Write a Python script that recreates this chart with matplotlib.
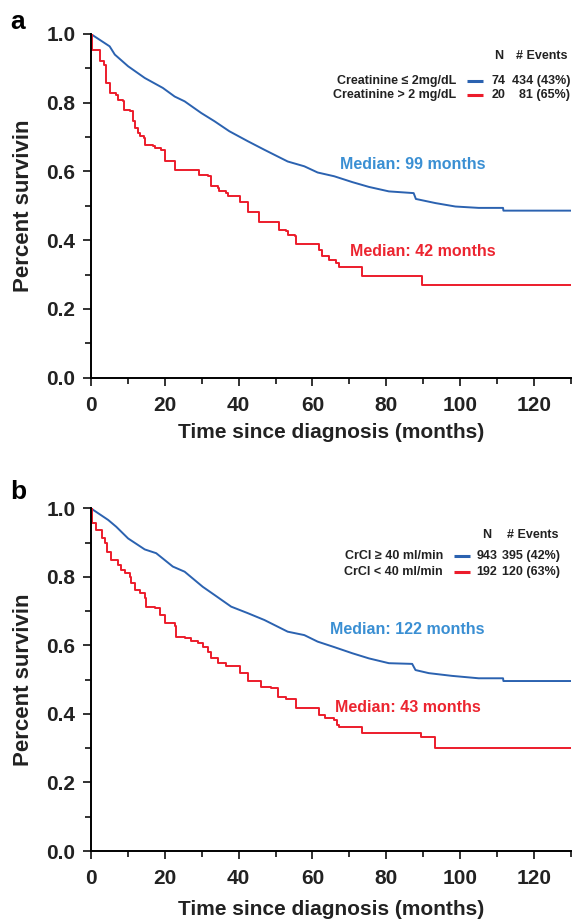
import numpy as np
import matplotlib
matplotlib.use('Agg')
import matplotlib.pyplot as plt

plt.rcParams['font.family'] = ['Liberation Sans', 'DejaVu Sans']
plt.rcParams['font.weight'] = 'bold'

# panel a - creatinine groups
a_blue_t = [0, 5.1, 6.5, 10.1, 14.6, 19.5, 22.7, 25.4, 29.9, 33.5, 37.5, 42.5, 47, 53.3,
            57.8, 61.4, 65.9, 70.8, 75.3, 80.7, 87.4, 88.0, 93.3, 98.7, 105, 111.6, 111.7, 130]
a_blue_s = [1.0, 0.964, 0.94, 0.906, 0.872, 0.843, 0.818, 0.804, 0.770, 0.746, 0.717, 0.688, 0.663, 0.629,
            0.615, 0.597, 0.586, 0.569, 0.555, 0.542, 0.537, 0.520, 0.508, 0.498, 0.494, 0.494, 0.486, 0.486]
a_red_t = [0, 0.4, 2.4, 3.6, 4.2, 5.1, 6.9, 7.4, 8.7, 9.0, 10.5, 11.4, 11.9, 12.8, 13.2, 14.4, 14.8,
           16.8, 17.3, 19.1, 20.0, 22.9, 29.4, 31.7, 32.6, 34.4, 34.8, 36.6, 37.1, 40.5, 42.6, 45.6,
           51.0, 52.8, 53.3, 55.2, 55.5, 61.8, 62.7, 64.5, 66.3, 67.2, 73.5, 89.7, 130]
a_red_s = [1.0, 0.953, 0.92, 0.911, 0.857, 0.828, 0.823, 0.809, 0.804, 0.780, 0.775, 0.746, 0.726, 0.712,
           0.702, 0.697, 0.678, 0.673, 0.668, 0.663, 0.629, 0.605, 0.591, 0.586, 0.557, 0.552, 0.542,
           0.537, 0.530, 0.510, 0.481, 0.452, 0.431, 0.426, 0.416, 0.411, 0.389, 0.372, 0.353, 0.343,
           0.334, 0.322, 0.295, 0.271, 0.271]

# panel b - CrCl groups
b_blue_t = [0, 4.7, 6.9, 10.1, 14.6, 17.7, 22.2, 25.4, 30.3, 33.5, 38, 42.5, 47, 53.3, 57.8,
            61.4, 65.9, 70.8, 75.3, 80.7, 87, 87.9, 91.5, 97.8, 105, 111.6, 111.7, 130]
b_blue_s = [1.0, 0.966, 0.946, 0.912, 0.880, 0.869, 0.830, 0.815, 0.771, 0.747, 0.713, 0.694, 0.674, 0.640,
            0.630, 0.611, 0.595, 0.577, 0.562, 0.548, 0.546, 0.528, 0.519, 0.511, 0.504, 0.504, 0.496, 0.496]
b_red_t = [0, 0.4, 1.5, 2.9, 3.8, 4.5, 5.6, 7.4, 8.3, 9.2, 10.5, 11.0, 11.9, 13.2, 14.6, 15.0, 17.3,
           18.6, 20.0, 22.7, 23.1, 25.4, 27.2, 29.0, 30.3, 31.7, 32.6, 34.4, 36.6, 40.5, 42.5, 46.1,
           48.8, 50.6, 52.8, 55.5, 61.8, 63.4, 65.9, 66.7, 67.2, 73.5, 89.5, 93.1, 130]
b_red_s = [1.0, 0.956, 0.937, 0.912, 0.898, 0.873, 0.849, 0.835, 0.820, 0.810, 0.800, 0.781, 0.762,
           0.752, 0.737, 0.713, 0.708, 0.689, 0.664, 0.657, 0.625, 0.621, 0.613, 0.606, 0.596, 0.582,
           0.562, 0.548, 0.540, 0.519, 0.497, 0.479, 0.475, 0.450, 0.443, 0.416, 0.397, 0.387, 0.382,
           0.368, 0.361, 0.345, 0.332, 0.300, 0.300]

a_groups = ['Creatinine \u2264 2mg/dL', 'Creatinine > 2 mg/dL']
a_n = ['74', '20']
a_events = ['434 (43%)', '81 (65%)']
a_medians = ['Median: 99 months', 'Median: 42 months']

b_groups = ['CrCl \u2265 40 ml/min', 'CrCl < 40 ml/min']
b_n = ['943', '192']
b_events = ['395 (42%)', '120 (63%)']
b_medians = ['Median: 122 months', 'Median: 43 months']

blue_line = '#2b62b0'
red_line = '#ec1c2b'
blue_text = '#3a8fd3'
red_text = '#ec2530'

fig = plt.figure(figsize=(5.74, 9.23), dpi=100)
ax_a = fig.add_axes([0.1582, 0.5908, 0.8366, 0.3724])
ax_b = fig.add_axes([0.1582, 0.0780, 0.8366, 0.3713])


def style_axis(ax, xpad):
    ax.set_xlim(0, 130)
    ax.set_ylim(0, 1.0)
    ax.spines['top'].set_visible(False)
    ax.spines['right'].set_visible(False)
    ax.spines['left'].set_linewidth(1.4)
    ax.spines['bottom'].set_linewidth(1.4)
    ax.set_xticks(np.arange(0, 121, 20))
    ax.set_xticks(np.arange(10, 131, 20), minor=True)
    ax.set_yticks(np.arange(0, 1.01, 0.2))
    ax.set_yticks(np.arange(0.1, 1.0, 0.2), minor=True)
    ax.yaxis.set_major_formatter(plt.FormatStrFormatter('%.1f'))
    ax.tick_params(which='major', length=6, width=1.3, labelsize=15, pad=5, color='#222222')
    ax.tick_params(which='minor', length=4, width=1.3, color='#222222')
    ax.tick_params(axis='x', pad=7)
    ax.set_xlabel('Time since diagnosis (months)', fontsize=15, fontweight='bold', labelpad=xpad,
                  color='#222222')
    ax.set_ylabel('Percent survivin', fontsize=16, fontweight='bold', labelpad=9, color='#222222')
    for lab in ax.get_xticklabels() + ax.get_yticklabels():
        lab.set_fontweight('bold')
        lab.set_color('#222222')


def legend_block(ax, groups, ns, events, n_x, ev_x, ev_right, lab_right, line_x, y_head, y_rows):
    ax.text(n_x, y_head, 'N', ha='center', va='center', fontsize=9, fontweight='bold', color='#222222')
    ax.text(ev_x, y_head, '# Events', ha='center', va='center', fontsize=9, fontweight='bold',
            color='#222222')
    for grp, n, ev, y, c in zip(groups, ns, events, y_rows, [blue_line, red_line]):
        ax.text(lab_right, y, grp, ha='right', va='center', fontsize=9, fontweight='bold', color='#222222')
        ax.plot(line_x, [y, y], color=c, lw=2.2, solid_capstyle='butt')
        ax.text(n_x, y, n, ha='center', va='center', fontsize=9, fontweight='bold', color='#222222')
        ax.text(ev_right, y, ev, ha='right', va='center', fontsize=9, fontweight='bold', color='#222222')


# panel a
ax_a.plot(a_blue_t, a_blue_s, color=blue_line, lw=1.4)
ax_a.plot(a_red_t, a_red_s, color=red_line, lw=1.4, drawstyle='steps-post')
style_axis(ax_a, 6)
ax_a.text(87.2, 0.620, a_medians[0], ha='center', va='center', fontsize=11.5, fontweight='bold', color=blue_text)
ax_a.text(89.9, 0.367, a_medians[1], ha='center', va='center', fontsize=11.5, fontweight='bold', color=red_text)
legend_block(ax_a, a_groups, a_n, a_events, 110.4, 122.0, 129.8, 98.8, [101.8, 106.1],
             0.937, [0.862, 0.821])
fig.text(18 / 574, 1 - 22 / 923, 'a', ha='center', va='center', fontsize=19, fontweight='bold')

# panel b
ax_b.plot(b_blue_t, b_blue_s, color=blue_line, lw=1.4)
ax_b.plot(b_red_t, b_red_s, color=red_line, lw=1.4, drawstyle='steps-post')
style_axis(ax_b, 8.5)
ax_b.text(85.8, 0.645, b_medians[0], ha='center', va='center', fontsize=11.5, fontweight='bold', color=blue_text)
ax_b.text(85.8, 0.420, b_medians[1], ha='center', va='center', fontsize=11.5, fontweight='bold', color=red_text)
legend_block(ax_b, b_groups, b_n, b_events, 107.2, 119.6, 127.1, 95.3, [98.2, 102.6],
             0.922, [0.861, 0.814])
fig.text(18 / 574, 1 - 492 / 923, 'b', ha='center', va='center', fontsize=19, fontweight='bold')

fig.savefig('out.png', dpi=100)
